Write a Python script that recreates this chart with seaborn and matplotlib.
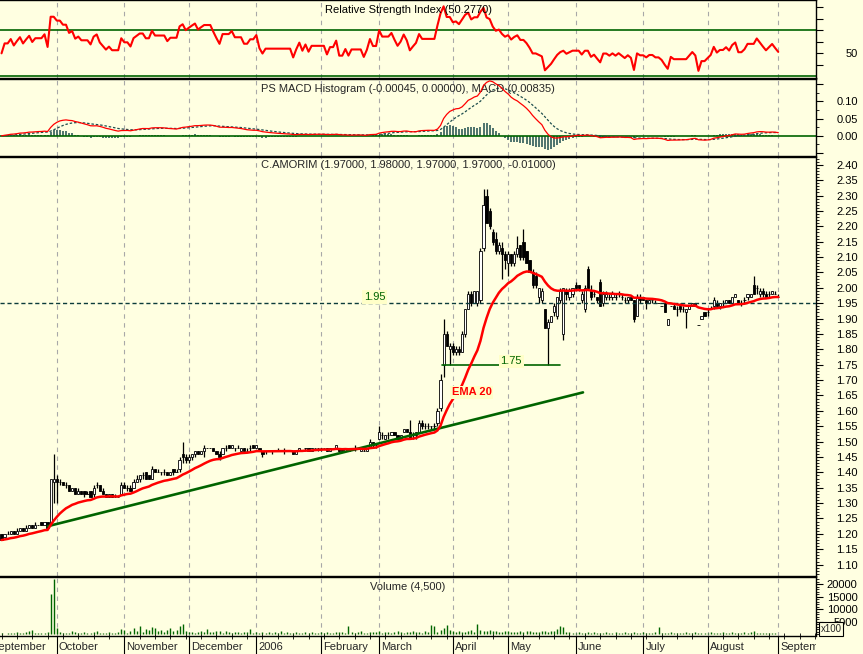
import numpy as np
import pandas as pd
import matplotlib
matplotlib.use("Agg")
import matplotlib.pyplot as plt
from matplotlib.ticker import MultipleLocator, FixedLocator, FuncFormatter
from matplotlib.patches import Rectangle
import seaborn as sns

sns.set_theme(style="white")
plt.rcParams["font.family"] = ["Liberation Sans", "DejaVu Sans"]

# ---------------- data (prices in cents) ----------------
opens_c = [
    120,119,120,120,121,120,121,122,121,122, 123,122,123,124,123,124,123,137,138,137,
    137,136,136,134,135,133,134,134,133,134, 133,136,136,134,133,132,133,132,132,133,
    136,135,135,135,137,138,139,140,139,138, 141,140,140,140,140,139,141,140,141,146,
    145,144,145,146,147,146,147,148,148,148, 147,146,146,148,149,148,148,148,147,148,
    147,148,149,148,148,147,147,147,147,147, 147,147,147,147,147,147,146,147,147,148,
    148,147,148,148,148,148,148,147,148,148, 148,148,147,148,148,148,148,147,147,147,
    148,150,149,151,152,151,152,152,153,152, 151,153,154,153,152,152,153,156,155,155,
    155,155,156,161,175,185,180,181,179,180, 179,185,193,198,195,195,196,213,230,225,
    218,216,212,213,211,208,211,208,211,214, 215,212,209,205,204,197,196,193,187,189,
    192,191,196,185,199,197,198,201,201,196, 193,206,199,198,197,202,195,197,197,197,
    197,198,197,196,196,197,196,191,197,197, 196,195,196,195,195,194,195,188,194,194,
    193,194,193,192,193,194,195,188,190,192, 192,193,194,195,194,195,195,196,195,197,
    196,195,196,197,197,201,200,198,199,198, 198,198,198,197]
highs_c = [
    120,120,121,121,121,122,122,122,123,123, 123,124,123,124,124,124,138,146,139,138,
    137,137,136,135,135,135,134,134,134,134, 136,137,136,135,133,133,133,133,132,137,
    137,136,136,138,139,139,140,140,139,142, 141,141,140,141,140,140,141,141,145,150,
    146,146,146,147,147,147,149,148,148,148, 147,147,148,149,149,149,148,149,148,148,
    148,149,149,149,148,147,147,147,147,147, 148,147,148,147,147,147,147,148,147,148,
    148,148,148,148,148,148,148,148,148,149, 148,148,148,148,148,149,148,148,148,148,
    151,150,149,155,153,152,153,153,153,152, 152,154,154,157,153,153,157,157,156,156,
    155,156,161,172,190,186,182,182,181,181, 186,193,199,199,199,199,213,232,232,226,
    219,218,215,215,212,212,211,212,217,214, 219,212,209,206,205,200,200,193,190,191,
    195,197,200,200,200,200,200,202,201,199, 201,207,201,199,197,203,199,199,198,199,
    198,199,198,197,197,197,196,198,198,197, 196,196,196,196,195,194,195,190,194,195,
    194,195,194,193,194,195,195,188,191,192, 193,194,197,196,195,196,196,196,197,198,
    196,196,197,198,198,204,201,200,200,199, 199,199,199,198]
lows_c = [
    118,119,120,120,120,120,121,121,121,122, 122,122,123,123,123,122,123,130,130,136,
    136,135,134,134,133,133,133,132,133,132, 132,135,134,133,132,132,132,132,132,133,
    135,134,134,135,137,137,138,138,138,138, 140,140,139,139,139,139,139,140,140,143,
    143,143,144,145,146,146,145,148,148,147, 146,144,146,147,148,148,147,148,147,147,
    147,147,148,148,147,145,146,147,146,147, 147,147,146,147,147,146,146,147,147,147,
    147,147,148,147,147,148,147,147,148,148, 147,147,147,147,148,147,148,147,147,147,
    148,148,148,151,151,151,151,152,152,151, 151,153,153,151,151,151,153,154,154,154,
    154,154,155,160,171,181,175,178,178,178, 179,184,193,194,195,194,195,212,221,219,
    214,211,211,203,206,204,207,207,210,209, 209,208,205,200,200,195,195,187,175,189,
    191,190,195,183,196,196,197,200,199,195, 192,200,196,197,195,194,194,196,196,196,
    196,197,196,195,195,196,189,191,195,196, 193,195,195,195,195,194,192,188,194,193,
    191,192,192,187,193,194,194,188,190,191, 191,193,193,194,193,194,195,195,195,197,
    195,194,195,196,197,198,198,197,197,197, 197,198,198,197]
closes_c = [
    118,120,120,121,120,121,122,121,122,123, 122,123,123,123,124,122,138,138,137,137,
    136,136,134,135,133,134,133,133,133,132, 135,136,134,133,132,133,132,132,132,136,
    135,135,134,137,138,139,139,138,138,141, 140,140,140,140,139,140,140,140,144,145,
    144,145,146,147,146,147,148,148,148,147, 146,145,148,148,148,149,148,148,148,147,
    147,148,148,149,147,146,147,147,147,147, 147,147,147,147,147,146,147,148,147,148,
    147,148,148,148,148,148,147,148,148,149, 147,147,148,147,148,148,148,148,147,148,
    150,149,149,153,152,152,152,153,152,151, 152,154,153,151,152,153,156,155,155,155,
    155,155,160,170,185,181,181,179,180,179, 185,193,198,195,199,199,212,227,221,220,
    215,212,214,211,209,211,208,211,213,210, 210,208,205,201,201,200,199,187,189,191,
    194,197,199,200,198,199,200,200,200,198, 200,200,197,198,196,194,198,198,197,198,
    197,198,197,196,197,196,190,197,196,196, 195,196,196,195,195,194,192,190,194,193,
    193,193,193,193,194,195,194,188,191,191, 192,193,196,194,195,195,196,195,197,198,
    195,195,196,198,198,198,200,199,198,197, 198,199,198,197]
volumes = [
    500,300,700,400,600,900,500,400,800,1500, 1600,600,400,700,500,900,16100,22000,2400,900,
    700,500,600,1200,800,400,600,1000,700,500, 800,1500,600,400,700,900,500,600,800,2000,
    1800,700,1400,2600,1200,3400,1100,2200,1800,2900, 2400,1200,1600,900,1800,2600,1300,1600,3300,4100,
    1200,800,1100,600,900,1300,1100,2000,800,900, 1500,1200,700,1400,1000,600,800,900,700,1100,
    800,2000,600,900,700,1100,500,800,600,900, 700,1200,500,800,600,400,900,700,500,1000,
    600,800,500,700,900,600,1000,700,500,800, 900,1100,700,3200,800,600,900,1200,700,500,
    1100,800,900,1300,700,900,1100,600,800,1200, 900,700,1000,800,1400,900,1100,700,1300,1000,
    3700,3300,1100,1600,2500,3700,1800,1200,900,1500, 1100,800,1300,1600,1000,4000,1700,1400,1200,1900,
    1300,1500,1000,900,1200,1400,1000,800,1100,1300, 900,1200,1500,1000,800,1100,1300,1500,1000,1200,
    1400,2000,3200,2800,1100,900,700,600,800,500, 700,900,600,800,500,700,600,800,500,600,
    900,700,500,800,600,700,900,500,600,800, 700,600,500,800,2900,700,600,500,800,600,
    700,500,600,900,700,500,800,600,700,500, 600,800,500,700,600,900,500,700,800,600,
    500,700,900,600,800,1300,600,500,700,600, 500,600,400,45]

month_labels = ["September", "October", "November", "December", "2006", "February",
                "March", "April", "May", "June", "July", "August", "September"]
month_starts = [-4, 18, 40, 61, 83, 104, 123, 147, 165, 187, 209, 230, 253]

trend_idx = [15.1, 189.4]
trend_val = [1.225, 1.66]
support_idx = [143.4, 181.9]
support_val = 1.75
ref_level = 1.95

# ---------------- frame ----------------
n = len(closes_c)
df = pd.DataFrame({
    "i": np.arange(n),
    "open": np.array(opens_c) / 100.0,
    "high": np.array(highs_c) / 100.0,
    "low": np.array(lows_c) / 100.0,
    "close": np.array(closes_c) / 100.0,
    "volume": np.array(volumes, dtype=float),
})
close = df["close"]
df["ema20"] = close.ewm(span=20, adjust=False).mean()
ema12 = close.ewm(span=12, adjust=False).mean()
ema26 = close.ewm(span=26, adjust=False).mean()
df["macd"] = ema12 - ema26
df["signal"] = df["macd"].ewm(span=9, adjust=False).mean()
df["hist"] = df["macd"] - df["signal"]

# Wilder RSI(14), seeded neutral
delta = close.diff().fillna(0).values
ag, al = 0.004, 0.004
rsi = []
for d in delta:
    ag = (ag * 13 + max(d, 0)) / 14
    al = (al * 13 + max(-d, 0)) / 14
    rsi.append(100 - 100 / (1 + ag / al) if al > 0 else 100)
df["rsi"] = rsi

# ---------------- layout ----------------
W, H = 863, 654
BG = "#FFFFE1"
RED = "#FF0000"
DKGREEN = "#006400"
TEAL = "#1E4E4E"
GRID = "#A8A8A8"

fig = plt.figure(figsize=(W / 100, H / 100), dpi=100, facecolor=BG)
XR = 816


def rect(yt, yb):
    return [0, 1 - yb / H, XR / W, (yb - yt) / H]


ax_rsi = fig.add_axes(rect(0, 77.5))
ax_macd = fig.add_axes(rect(78.5, 155.5))
ax_p = fig.add_axes(rect(156.5, 576))
ax_v = fig.add_axes(rect(577, 635.5))
axes = [ax_rsi, ax_macd, ax_p, ax_v]
XLIM = (-0.5, XR / 3.07 - 0.5)

for ax in axes:
    ax.set_facecolor(BG)
    ax.set_xlim(*XLIM)
    for m in month_starts[1:]:
        ax.axvline(m, color=GRID, lw=0.8, ls=(0, (4, 4)), zorder=0.5)
    ax.spines["left"].set_visible(False)
    for s in ["top", "bottom", "right"]:
        ax.spines[s].set_color("black")
        ax.spines[s].set_linewidth(1.0)
    ax.yaxis.tick_right()
    ax.tick_params(axis="y", which="major", direction="out", length=5, width=0.8,
                   colors="black", labelsize=8, pad=25, right=True, left=False)
    ax.tick_params(axis="y", which="minor", direction="out", length=2.5, width=0.6,
                   colors="black", right=True, left=False)
    ax.tick_params(axis="x", which="both", bottom=False, top=False, labelbottom=False)


def right_align(ax):
    for lab in ax.get_yticklabels():
        lab.set_horizontalalignment("right")


# ---- RSI ----
sns.lineplot(data=df, x="i", y="rsi", ax=ax_rsi, color=RED, lw=1.5, legend=False, zorder=3)
ax_rsi.axhline(70, color=DKGREEN, lw=1.2, zorder=2)
ax_rsi.axhline(30, color=DKGREEN, lw=1.2, zorder=2)
ax_rsi.set_ylim(29.1, 96.1)
ax_rsi.yaxis.set_major_locator(FixedLocator([40, 50, 60, 70, 80, 90]))
ax_rsi.yaxis.set_major_formatter(FuncFormatter(lambda v, p: "50" if abs(v - 50) < 1e-6 else ""))
ax_rsi.text(0.5, 1 - 10 / 77.5, "Relative Strength Index (50.2770)", transform=ax_rsi.transAxes,
            ha="center", va="center", fontsize=8, color="black")
ax_rsi.set_xlabel(""); ax_rsi.set_ylabel("")

# ---- MACD ----
ax_macd.vlines(df["i"], 0, df["hist"], color=TEAL, lw=1.1, zorder=2)
ax_macd.axhline(0, color=DKGREEN, lw=1.2, zorder=2.5)
sns.lineplot(data=df, x="i", y="signal", ax=ax_macd, color=TEAL, lw=0.9,
             linestyle=(0, (2, 1.5)), legend=False, zorder=3)
sns.lineplot(data=df, x="i", y="macd", ax=ax_macd, color=RED, lw=0.9, legend=False, zorder=4)
ax_macd.set_ylim(-0.057, 0.166)
ax_macd.yaxis.set_major_locator(FixedLocator([-0.05, 0.0, 0.05, 0.10, 0.15]))
ax_macd.yaxis.set_minor_locator(FixedLocator([-0.025, 0.025, 0.075, 0.125]))
ax_macd.yaxis.set_major_formatter(FuncFormatter(
    lambda v, p: "%.2f" % v if -0.001 < v < 0.11 else ""))
ax_macd.text(0.5, 1 - 11 / 77, "PS MACD Histogram (-0.00045, 0.00000), MACD (0.00835)",
             transform=ax_macd.transAxes, ha="center", va="center", fontsize=8)
ax_macd.set_xlabel(""); ax_macd.set_ylabel("")

# ---- Price ----
up = df["close"] >= df["open"]
ax_p.vlines(df["i"], df["low"], df["high"], color="black", lw=0.9, zorder=2)
ax_p.bar(df["i"], df["close"] - df["open"], bottom=df["open"], width=0.72,
         color=np.where(up, "white", "black"), edgecolor="black", linewidth=0.6, zorder=3)
sns.lineplot(data=df, x="i", y="ema20", ax=ax_p, color=RED, lw=1.8, legend=False, zorder=5)
ax_p.plot(trend_idx, trend_val, color=DKGREEN, lw=1.9, zorder=4)
ax_p.plot(support_idx, [support_val, support_val], color=DKGREEN, lw=1.2, zorder=4)
ax_p.axhline(ref_level, color="#0B3B3B", lw=1.0, ls=(0, (3, 2)), zorder=4)
ax_p.set_ylim(1.063, 2.427)
ax_p.yaxis.set_major_locator(MultipleLocator(0.05))
ax_p.yaxis.set_minor_locator(MultipleLocator(0.01))
ax_p.yaxis.set_major_formatter(FuncFormatter(lambda v, p: "%.2f" % v))
ax_p.text(0.5, 1 - 8.5 / 419.5, "C.AMORIM (1.97000, 1.98000, 1.97000, 1.97000, -0.01000)",
          transform=ax_p.transAxes, ha="center", va="center", fontsize=8)
box = dict(boxstyle="square,pad=0.15", facecolor="#FFFFC8", edgecolor="none")
ax_p.text(121.6, 1.970, "1.95", color=DKGREEN, fontsize=8, ha="center", va="center", bbox=box, zorder=6)
ax_p.text(166.0, 1.761, "1.75", color=DKGREEN, fontsize=8, ha="center", va="center", bbox=box, zorder=6)
ax_p.text(153.2, 1.660, "EMA 20", color=RED, fontsize=8, fontweight="bold", ha="center",
          va="center", bbox=box, zorder=6)
ax_p.set_xlabel(""); ax_p.set_ylabel("")

# ---- Volume ----
ax_v.vlines(df["i"], 0, df["volume"], color=DKGREEN, lw=1.0, zorder=2)
ax_v.set_ylim(-400, 22800)
ax_v.yaxis.set_major_locator(FixedLocator([5000, 10000, 15000, 20000]))
ax_v.yaxis.set_minor_locator(MultipleLocator(1000))
ax_v.yaxis.set_major_formatter(FuncFormatter(lambda v, p: "%d" % v))
ax_v.text(0.5, 1 - 10 / 58.5, "Volume (4,500)", transform=ax_v.transAxes,
          ha="center", va="center", fontsize=8)
ax_v.set_xlabel(""); ax_v.set_ylabel("")
ax_v.xaxis.set_major_locator(FixedLocator(month_starts))
ax_v.xaxis.set_minor_locator(MultipleLocator(5))
ax_v.tick_params(axis="x", which="major", bottom=True, direction="out", length=14,
                 width=0.8, colors="black", labelbottom=False)
ax_v.tick_params(axis="x", which="minor", bottom=True, direction="inout", length=4,
                 width=0.6, colors="black")

clip_rect = Rectangle((0, 0), XR / W, 1, transform=fig.transFigure, facecolor="none",
                      edgecolor="none")
for m, lab in zip(month_starts, month_labels):
    t = ax_v.text(m + 0.7, -0.2, lab, transform=ax_v.get_xaxis_transform(), ha="left",
                  va="center", fontsize=8, clip_on=True)
    t.set_clip_path(clip_rect)

fig.text(831 / W, 1 - 629 / H, "x100", ha="center", va="center", fontsize=7,
         bbox=dict(boxstyle="square,pad=0.2", facecolor=BG, edgecolor="black", lw=0.8))

for ax in axes:
    right_align(ax)

fig.savefig("out.png", dpi=100, facecolor=BG)
